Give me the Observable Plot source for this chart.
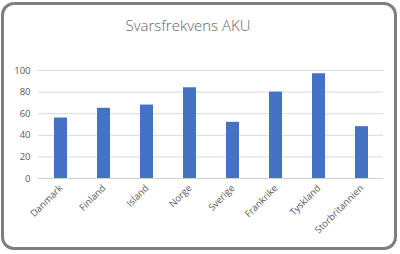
<!DOCTYPE html>
<html>
<head>
<meta charset="utf-8">
<script src="https://cdn.jsdelivr.net/npm/d3@7"></script>
<script src="https://cdn.jsdelivr.net/npm/@observablehq/plot@0.6"></script>
<style>
  html, body { margin: 0; padding: 0; background: #fff; }
  #wrap { position: relative; width: 400px; height: 254px; overflow: hidden; }
  #frame { position: absolute; left: 1px; top: 2px; width: 390px; height: 242px;
           border: 3px solid #7f7f7f; border-radius: 13px; box-sizing: content-box; }
  #title { position: absolute; left: 0; width: 376px; top: 15px; text-align: center;
           font-family: "Open Sans", sans-serif; font-weight: 300; font-size: 15px; color: #666; }
  #chart { position: absolute; left: 0; top: 0; }
</style>
</head>
<body>
<div id="wrap">
  <div id="frame"></div>
  <div id="chart"></div>
  <div id="title">Svarsfrekvens AKU</div>
</div>
<script>
const countries = ["Danmark", "Finland", "Island", "Norge", "Sverige", "Frankrike", "Tyskland", "Storbritannien"];
const values = [56, 65, 68, 84, 52, 80, 97, 48];
const yTicks = [0, 20, 40, 60, 80, 100];

const data = countries.map((c, i) => ({country: c, value: values[i]}));

const chart = Plot.plot({
  width: 400,
  height: 254,
  marginLeft: 38,
  marginRight: 17,
  marginTop: 70,
  marginBottom: 76,
  style: {fontFamily: "'Open Sans', sans-serif", fontSize: "9.5px", color: "#595959", background: "transparent"},
  x: {domain: countries, paddingInner: 0.7, paddingOuter: 0.35, label: null},
  y: {domain: [0, 100], label: null},
  marks: [
    Plot.gridY(yTicks, {stroke: "#d9d9d9", strokeOpacity: 1}),
    Plot.axisY(yTicks, {tickSize: 0, tickPadding: 8, label: null}),
    Plot.ruleY([0], {stroke: "#d0d0d0"}),
    Plot.barY(data, {x: "country", y: "value", fill: "#4472C4"}),
    Plot.axisX({tickSize: 0, tickPadding: 8, tickRotate: -45, label: null})
  ]
});
document.getElementById("chart").appendChild(chart);
</script>
</body>
</html>
